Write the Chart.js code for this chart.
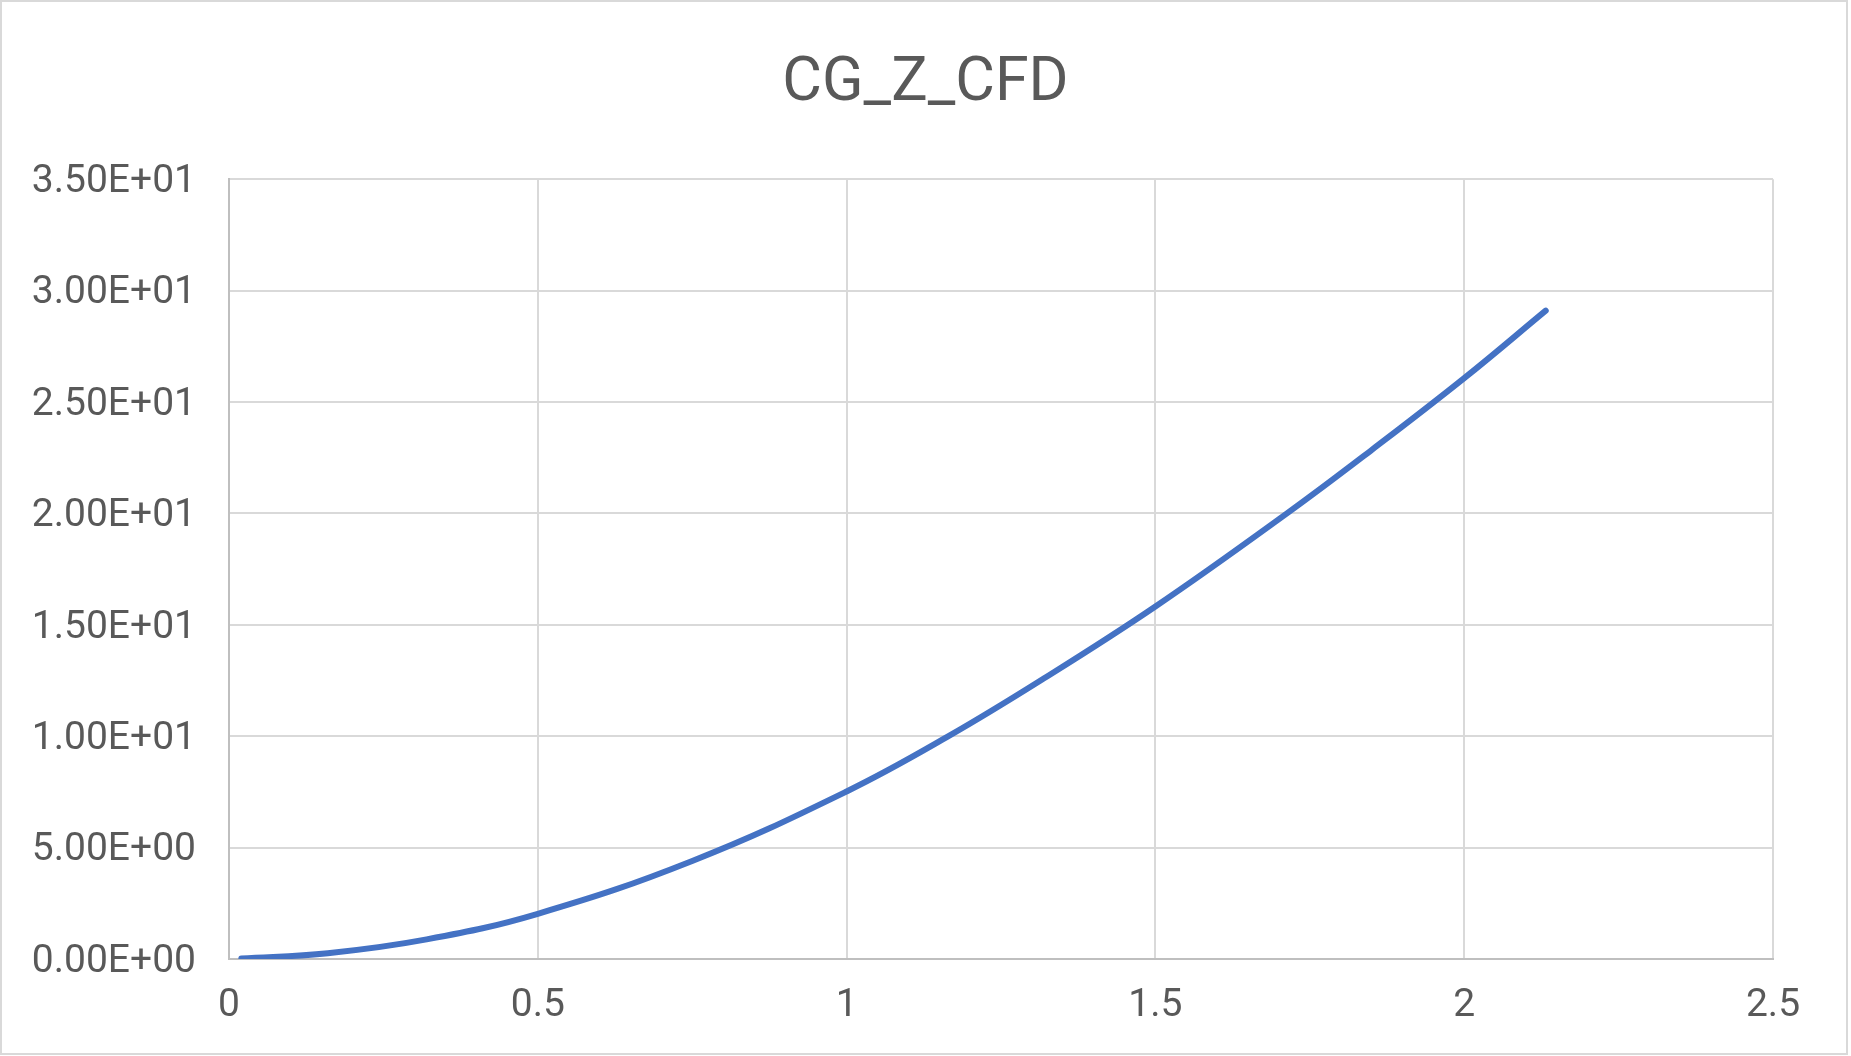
<!DOCTYPE html>
<html>
<head>
<meta charset="utf-8">
<title>CG_Z_CFD</title>
<script src="https://cdn.jsdelivr.net/npm/chart.js@4/dist/chart.umd.min.js"></script>
<style>
  html, body { margin: 0; padding: 0; background: #ffffff; overflow: hidden; }
  #wrap { position: relative; width: 1851px; height: 1056px; }
</style>
</head>
<body>
<div id="wrap"><canvas id="cg-chart"></canvas></div>
<script>
// values
var xValues = [0.02, 0.16, 0.32, 0.5, 0.75, 1.0, 1.165, 1.316, 1.5, 1.713, 1.848, 2.0, 2.132];
var zValues = [0.02, 0.26, 0.88, 2.03, 4.4, 7.52, 10.0, 12.53, 15.82, 20.0, 22.8, 26.07, 29.1];
var yTickLabels = ['0.00E+00', '5.00E+00', '1.00E+01', '1.50E+01', '2.00E+01', '2.50E+01', '3.00E+01', '3.50E+01'];
var xTickLabels = ['0', '0.5', '1', '1.5', '2', '2.5'];

(function () {
  var canvas = document.getElementById('cg-chart');
  if (!canvas || typeof Chart === 'undefined') {
    return;
  }

  var textColor = '#595959';
  var gridColor = '#d9d9d9';
  var axisColor = '#bfbfbf';
  var lineColor = '#4472c4';

  var points = xValues.map(function (x, i) {
    return { x: x, y: zValues[i] };
  });

  // thin grey frame round the whole chart, like the Excel chart area
  var frame = {
    id: 'frame',
    beforeDraw: function (chart) {
      var ctx = chart.ctx;
      ctx.save();
      ctx.fillStyle = '#ffffff';
      ctx.fillRect(0, 0, chart.width, chart.height);
      ctx.strokeStyle = gridColor;
      ctx.lineWidth = 2;
      ctx.strokeRect(1, 1, 1846, 1053);
      ctx.restore();
    }
  };

  new Chart(canvas, {
    type: 'scatter',
    data: {
      datasets: [
        {
          label: 'CG_Z_CFD',
          data: points,
          showLine: true,
          borderColor: lineColor,
          backgroundColor: lineColor,
          borderWidth: 6,
          borderCapStyle: 'round',
          borderJoinStyle: 'round',
          pointRadius: 0,
          pointHoverRadius: 0,
          tension: 0.4
        }
      ]
    },
    options: {
      responsive: true,
      maintainAspectRatio: false,
      animation: false,
      layout: { padding: 0 },
      plugins: {
        legend: { display: false },
        tooltip: { enabled: false },
        title: {
          display: true,
          text: 'CG_Z_CFD',
          color: textColor,
          font: { family: 'Roboto', size: 61, weight: 'normal' },
          padding: { top: 48, bottom: 58 }
        }
      },
      scales: {
        x: {
          type: 'linear',
          min: 0,
          max: 2.5,
          afterFit: function (scale) { scale.height = 97; },
          afterBuildTicks: function (scale) {
            scale.ticks = xTickLabels.map(function (t) { return { value: parseFloat(t) }; });
          },
          grid: { color: gridColor, lineWidth: 2, drawTicks: false },
          border: { color: axisColor, width: 2 },
          ticks: {
            color: textColor,
            padding: 24,
            maxRotation: 0,
            font: { family: 'Roboto', size: 39 },
            callback: function (value, index) { return xTickLabels[index]; }
          }
        },
        y: {
          type: 'linear',
          min: 0,
          max: 35,
          afterFit: function (scale) { scale.width = 229; },
          afterBuildTicks: function (scale) {
            scale.ticks = yTickLabels.map(function (t) { return { value: parseFloat(t) }; });
          },
          grid: { color: gridColor, lineWidth: 2, drawTicks: false },
          border: { color: axisColor, width: 2 },
          ticks: {
            color: textColor,
            padding: 33,
            labelOffset: 3,
            font: { family: 'Roboto', size: 39 },
            callback: function (value, index) { return yTickLabels[index]; }
          }
        },
        // empty right-hand strip so the title stays centred on the whole canvas
        spacer: {
          type: 'linear',
          position: 'right',
          display: true,
          afterFit: function (scale) { scale.width = 78; },
          grid: { display: false, drawTicks: false },
          border: { display: false },
          ticks: { display: false }
        }
      }
    },
    plugins: [frame]
  });
})();
</script>
</body>
</html>
